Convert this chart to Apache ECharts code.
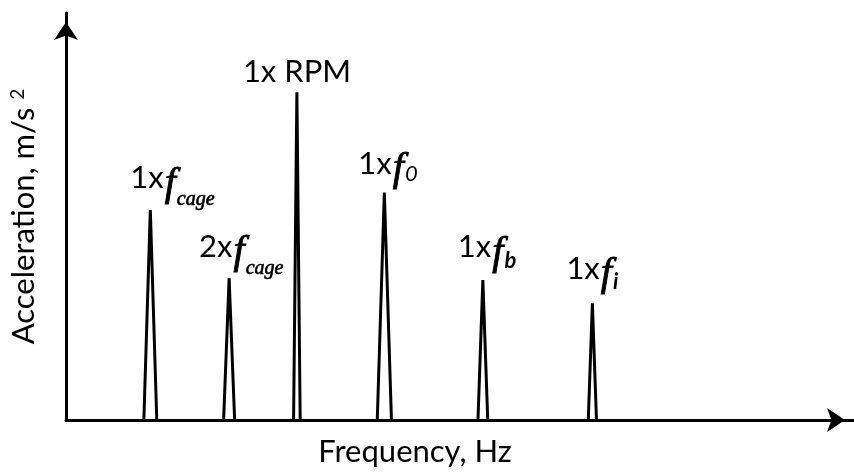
<!DOCTYPE html>
<html>
<head>
<meta charset="utf-8">
<script src="https://cdn.jsdelivr.net/npm/echarts@6/dist/echarts.min.js"></script>
<style>
  html, body { margin: 0; background: #fff; }
  #chart { width: 854px; height: 472px; }
</style>
</head>
<body>
<div id="chart"></div>
<script>
// spectrum peaks (arbitrary units)
const peakLabels = [
  '{n|1x}{f|f}{s|cage}',
  '{n|2x}{f|f}{s|cage}',
  '{n|1x RPM}',
  '{n|1x}{f|f}{t|0}',
  '{n|1x}{f|f}{u|b}',
  '{n|1x}{f|f}{u|i}'
];
const peakFreq = [10.7, 20.7, 29.3, 40.4, 52.9, 66.8];
const peakAmp = [51.6, 34.8, 80.5, 55.9, 34.4, 28.7];
const peakHalfWidth = [0.82, 0.7, 0.42, 0.9, 0.62, 0.52];

// label nudges in px relative to the apex
const labelDx = [-20, -30, -54, -26, -25, -26];
const labelDy = [-9, -9, 2, -6, -10, -12];

const FONT = 'Lato';
const ink = { color: '#000', textBorderColor: '#000' };

const richStyles = {
  n: { fontFamily: FONT, fontSize: 31, color: '#000', lineHeight: 38, verticalAlign: 'top' },
  f: Object.assign({ fontFamily: 'Liberation Serif', fontStyle: 'italic', fontSize: 40, lineHeight: 34, textBorderWidth: 0.9, verticalAlign: 'top', padding: [1, 1, 0, 1] }, ink),
  s: Object.assign({ fontFamily: 'Liberation Serif', fontStyle: 'italic', fontSize: 20, lineHeight: 21, textBorderWidth: 0.6, verticalAlign: 'top', padding: [27, 0, 0, 0] }, ink),
  t: { fontFamily: FONT, fontStyle: 'italic', fontSize: 22, color: '#000', lineHeight: 22, verticalAlign: 'top', padding: [14, 0, 0, 0] },
  u: { fontFamily: FONT, fontStyle: 'italic', fontWeight: 'bold', fontSize: 22, color: '#000', lineHeight: 22, verticalAlign: 'top', padding: [18, 0, 0, 0] }
};

const series = peakFreq.map((f, i) => ({
  type: 'line',
  silent: true,
  animation: false,
  symbol: 'circle',
  symbolSize: 0,
  showSymbol: true,
  lineStyle: { color: '#000', width: 3, join: 'bevel' },
  data: [
    [f - peakHalfWidth[i], 0],
    {
      value: [f, peakAmp[i]],
      label: {
        show: true,
        position: 'top',
        distance: 0,
        align: 'left',
        offset: [labelDx[i], labelDy[i]],
        formatter: peakLabels[i],
        rich: richStyles
      }
    },
    [f + peakHalfWidth[i], 0]
  ]
}));

const axisLine = {
  symbol: ['none', 'arrow'],
  symbolSize: [18, 18],
  symbolOffset: [0, -9],
  lineStyle: { color: '#000', width: 3 }
};

const option = {
  backgroundColor: '#fff',
  animation: false,
  grid: { left: 66, right: 0, top: 13, bottom: 52, containLabel: false, outerBoundsMode: 'none' },
  xAxis: {
    type: 'value',
    min: 0,
    max: 100,
    axisLine: axisLine,
    axisTick: { show: false },
    axisLabel: { show: false },
    splitLine: { show: false },
    name: 'Frequency, Hz',
    nameLocation: 'middle',
    nameGap: 16,
    nameTextStyle: { fontFamily: FONT, fontSize: 31, color: '#000', padding: [0, 90, 0, 0] }
  },
  yAxis: {
    type: 'value',
    min: 0,
    max: 100,
    axisLine: axisLine,
    axisTick: { show: false },
    axisLabel: { show: false },
    splitLine: { show: false },
    name: '{a|Acceleration, m/s }{b|2}',
    nameLocation: 'middle',
    nameGap: 20,
    nameTextStyle: {
      rich: {
        a: { fontFamily: FONT, fontSize: 31, color: '#000', lineHeight: 38, verticalAlign: 'top' },
        b: { fontFamily: FONT, fontSize: 19, color: '#000', lineHeight: 19, verticalAlign: 'top' }
      }
    }
  },
  series: series
};

const chart = echarts.init(document.getElementById('chart'));
chart.setOption(option);
</script>
</body>
</html>
